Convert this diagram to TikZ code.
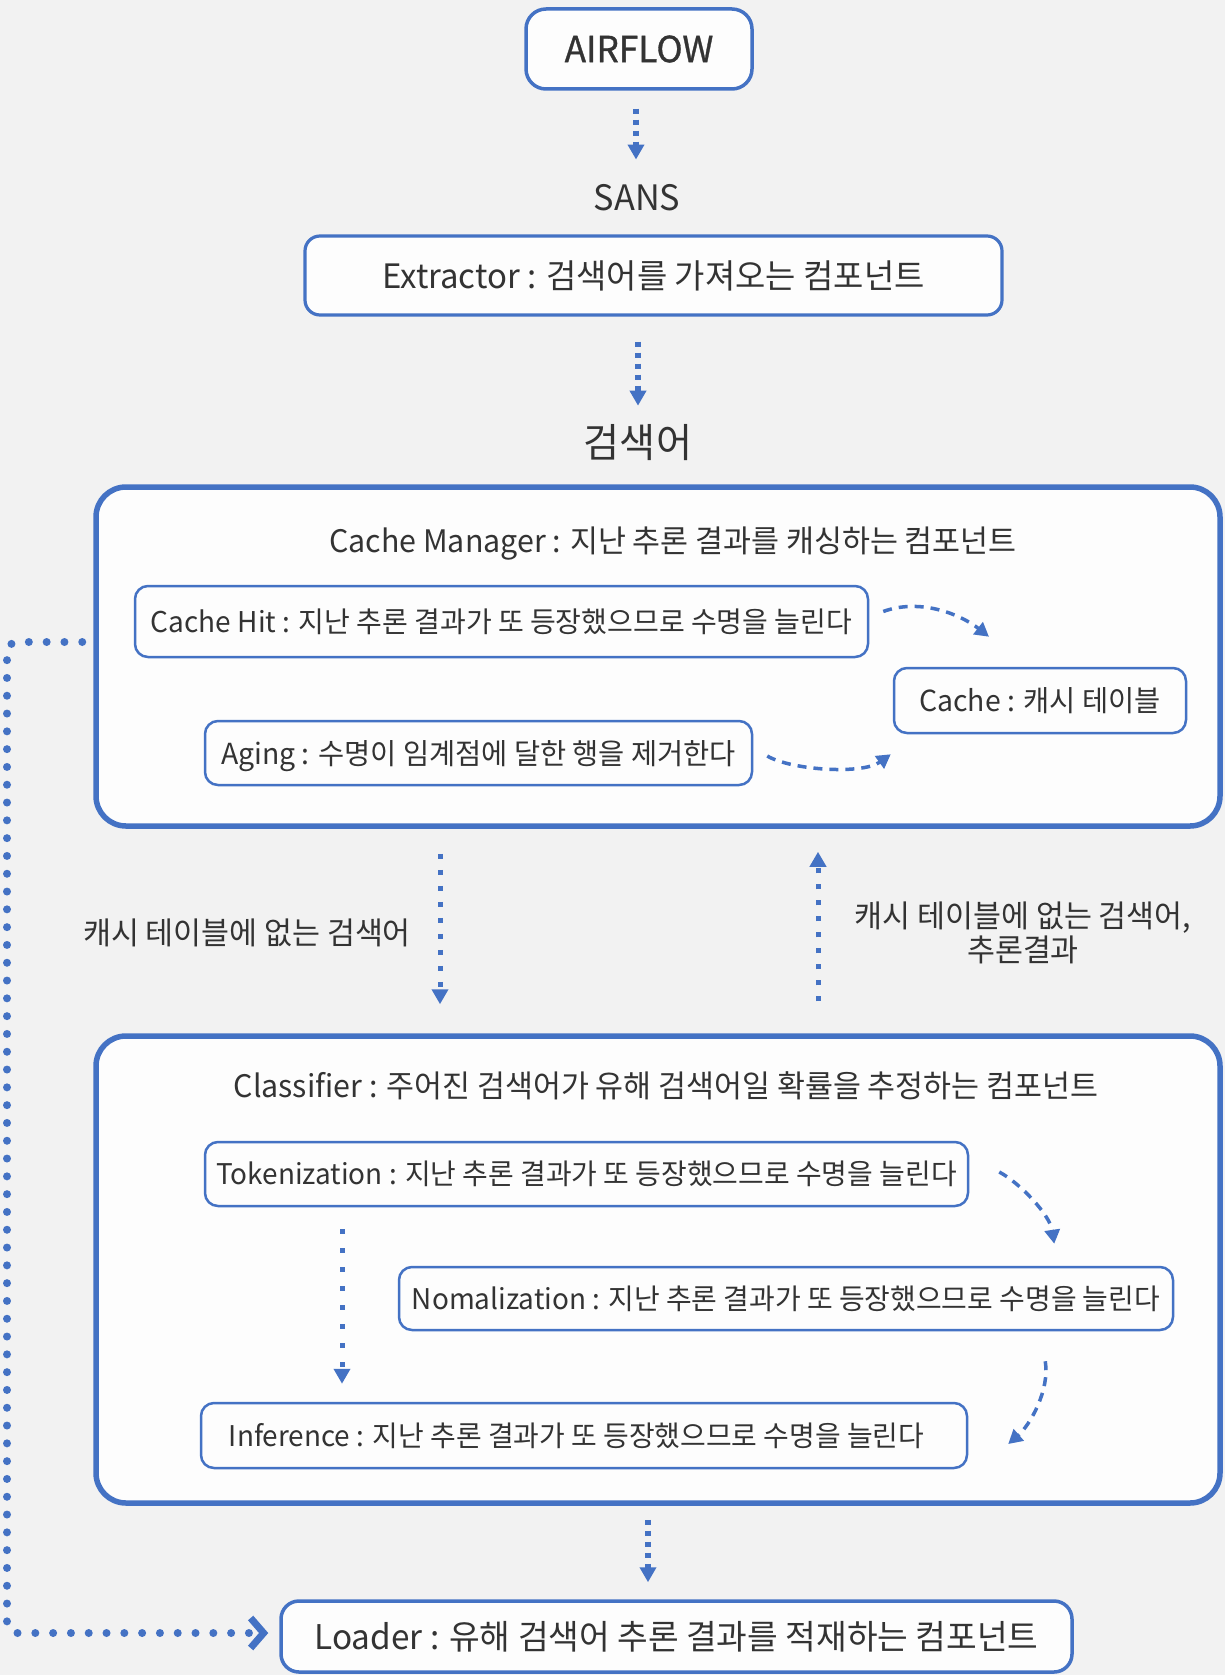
\documentclass[tikz,border=0pt]{standalone}
\usepackage{fontspec}
\setmainfont{Noto Sans CJK KR}[FakeStretch=0.98]
\newfontfamily\airf{Noto Sans CJK KR}[FakeStretch=0.98, FakeBold=0.9]
\usetikzlibrary{arrows.meta}
\definecolor{bl}{HTML}{4472C4}
\definecolor{bgc}{HTML}{F2F2F2}
\definecolor{fgc}{HTML}{FDFDFD}
\definecolor{tx}{HTML}{333333}
\newcommand\fsz[2]{\fontsize{#1}{#2}\selectfont}
\tikzset{
  txt/.style={text=tx, inner sep=0pt},
  outerbox/.style={draw=bl, fill=fgc, line width=5.5pt, rounded corners=30pt, inner sep=0pt},
  smallbox/.style={draw=bl, fill=fgc, text=tx, line width=2.5pt, rounded corners=13pt, inner sep=0pt},
  midbox/.style={draw=bl, fill=fgc, text=tx, line width=3.2pt, rounded corners=17pt, inner sep=0pt},
  sqarr/.style={draw=bl, line width=5.5pt, dash pattern=on 5.5pt off 5.5pt, -{Triangle[length=15pt,width=16pt]}},
  sqarrw/.style={draw=bl, line width=5pt, dash pattern=on 5pt off 11pt, -{Triangle[length=15pt,width=16pt]}},
  sqarrx/.style={draw=bl, line width=5pt, dash pattern=on 5pt off 14pt, -{Triangle[length=15pt,width=16pt]}},
  dcurve/.style={draw=bl, line width=3.5pt, dash pattern=on 9pt off 7pt, -{Triangle[length=14pt,width=15pt]}},
  loopdots/.style={draw=bl, line width=8pt, line cap=round, dash pattern=on 0pt off 17.8pt, rounded corners=10pt}
}
\begin{document}
\begin{tikzpicture}[x=1pt,y=-1pt]
\fill[bgc] (0,0) rectangle (1225,1675);
\useasboundingbox (0,0) rectangle (1225,1675);

% top
\node[midbox, line width=3.5pt, rounded corners=20pt, minimum width=226pt, minimum height=80pt, font=\airf\fsz{36}{40}] (air) at (639,49) {AIRFLOW};
\node[txt, font=\fsz{35}{40}] (sans) at (637,198) {SANS};
\node[midbox, minimum width=697pt, minimum height=79pt, rounded corners=15pt, font=\fsz{33.6}{38}] (ext) at (653.5,275.5) {Extractor : 검색어를 가져오는 컴포넌트};
\node[txt, font=\fsz{40}{46}] (kw) at (638,443) {검색어};

\draw[sqarr, shorten <=18pt, shorten >=25pt] (air.south -| 636,0) -- (sans.north -| 636,0);
\draw[sqarr, shorten <=25pt, shorten >=19pt] (ext.south -| 638,0) -- (kw.north -| 638,0);

% cache manager
\node[outerbox, minimum width=1124pt, minimum height=339pt] (cm) at (658,656.5) {};
\node[txt, font=\fsz{31}{36}] (cmt) at (673,544) {Cache Manager : 지난 추론 결과를 캐싱하는 컴포넌트};
\node[smallbox, minimum width=733pt, minimum height=71pt, font=\fsz{28.6}{34}] (hit) at (501.5,621.5) {Cache Hit : 지난 추론 결과가 또 등장했으므로 수명을 늘린다};
\node[smallbox, minimum width=292pt, minimum height=65pt, font=\fsz{29}{34}] (cache) at (1040,700.5) {Cache : 캐시 테이블};
\node[smallbox, minimum width=547pt, minimum height=64pt, font=\fsz{29}{34}, text depth=1.5pt] (aging) at (478.5,753) {Aging : 수명이 임계점에 달한 행을 제거한다};

\draw[dcurve] ([shift={(14,-10)}]hit.east) .. controls (920,598) and (960,614) .. ([shift={(-51,-30)}]cache.north);
\draw[dcurve] ([shift={(14,3)}]aging.east) .. controls (791,770) and (862,775) .. ([shift={(-2,20)}]cache.south west);

% middle labels
\node[txt, font=\fsz{31}{34}] (lbl1) at (247,933) {캐시 테이블에 없는 검색어};
\node[txt, align=center, font=\fsz{31}{34}] (lbl2) at (1023,933) {캐시 테이블에 없는 검색어,\\추론결과};

% classifier
\node[outerbox, minimum width=1124pt, minimum height=467pt] (cls) at (658,1269.5) {};
\node[txt, font=\fsz{31}{36}] (clst) at (666,1086) {Classifier : 주어진 검색어가 유해 검색어일 확률을 추정하는 컴포넌트};
\node[smallbox, minimum width=763pt, minimum height=64pt, font=\fsz{28.5}{34}] (tok) at (586.5,1174) {Tokenization : 지난 추론 결과가 또 등장했으므로 수명을 늘린다};
\node[smallbox, minimum width=774pt, minimum height=63pt, font=\fsz{28.5}{34}] (nom) at (786,1298.5) {Nomalization : 지난 추론 결과가 또 등장했으므로 수명을 늘린다};
\node[smallbox, minimum width=766pt, minimum height=65pt, font=\fsz{28.5}{34}] (inf) at (584,1435.5) {Inference : 지난 추론 결과가 또 등장했으므로 수명을 늘린다\hspace*{15pt}};

\draw[sqarrw, shorten <=25pt, shorten >=29pt] (cm.south -| 440,0) -- (cls.north -| 440,0);
\draw[sqarrw, shorten <=32pt, shorten >=23pt] (cls.north -| 818,0) -- (cm.south -| 818,0);
\draw[sqarrx, shorten <=22pt, shorten >=18pt] (tok.south -| 342,0) -- (inf.north -| 342,0);
\draw[dcurve] ([shift={(30,-2)}]tok.east) .. controls (1020,1183) and (1050,1215) .. ([shift={(-120,-22)}]nom.north east);
\draw[dcurve] ([shift={(-129,30)}]nom.south east) .. controls (1050,1390) and (1030,1425) .. ([shift={(40,8.5)}]inf.east);

% loader
\node[midbox, line width=3.5pt, rounded corners=18pt, minimum width=791pt, minimum height=71pt, font=\fsz{34}{40}] (ld) at (676.5,1636.5) {Loader : 유해 검색어 추론 결과를 적재하는 컴포넌트};
\draw[sqarr, shorten <=14pt, shorten >=17pt] (cls.south -| 648,0) -- (ld.north -| 648,0);

% loop
\draw[loopdots, shorten <=11pt, shorten >=11pt, -{Straight Barb[length=13pt,width=30pt,line width=7pt]}]
  (cm.west |- 0,642) -- (7,642) -- (7,1633) -- (ld.west |- 0,1633);
\end{tikzpicture}
\end{document}
